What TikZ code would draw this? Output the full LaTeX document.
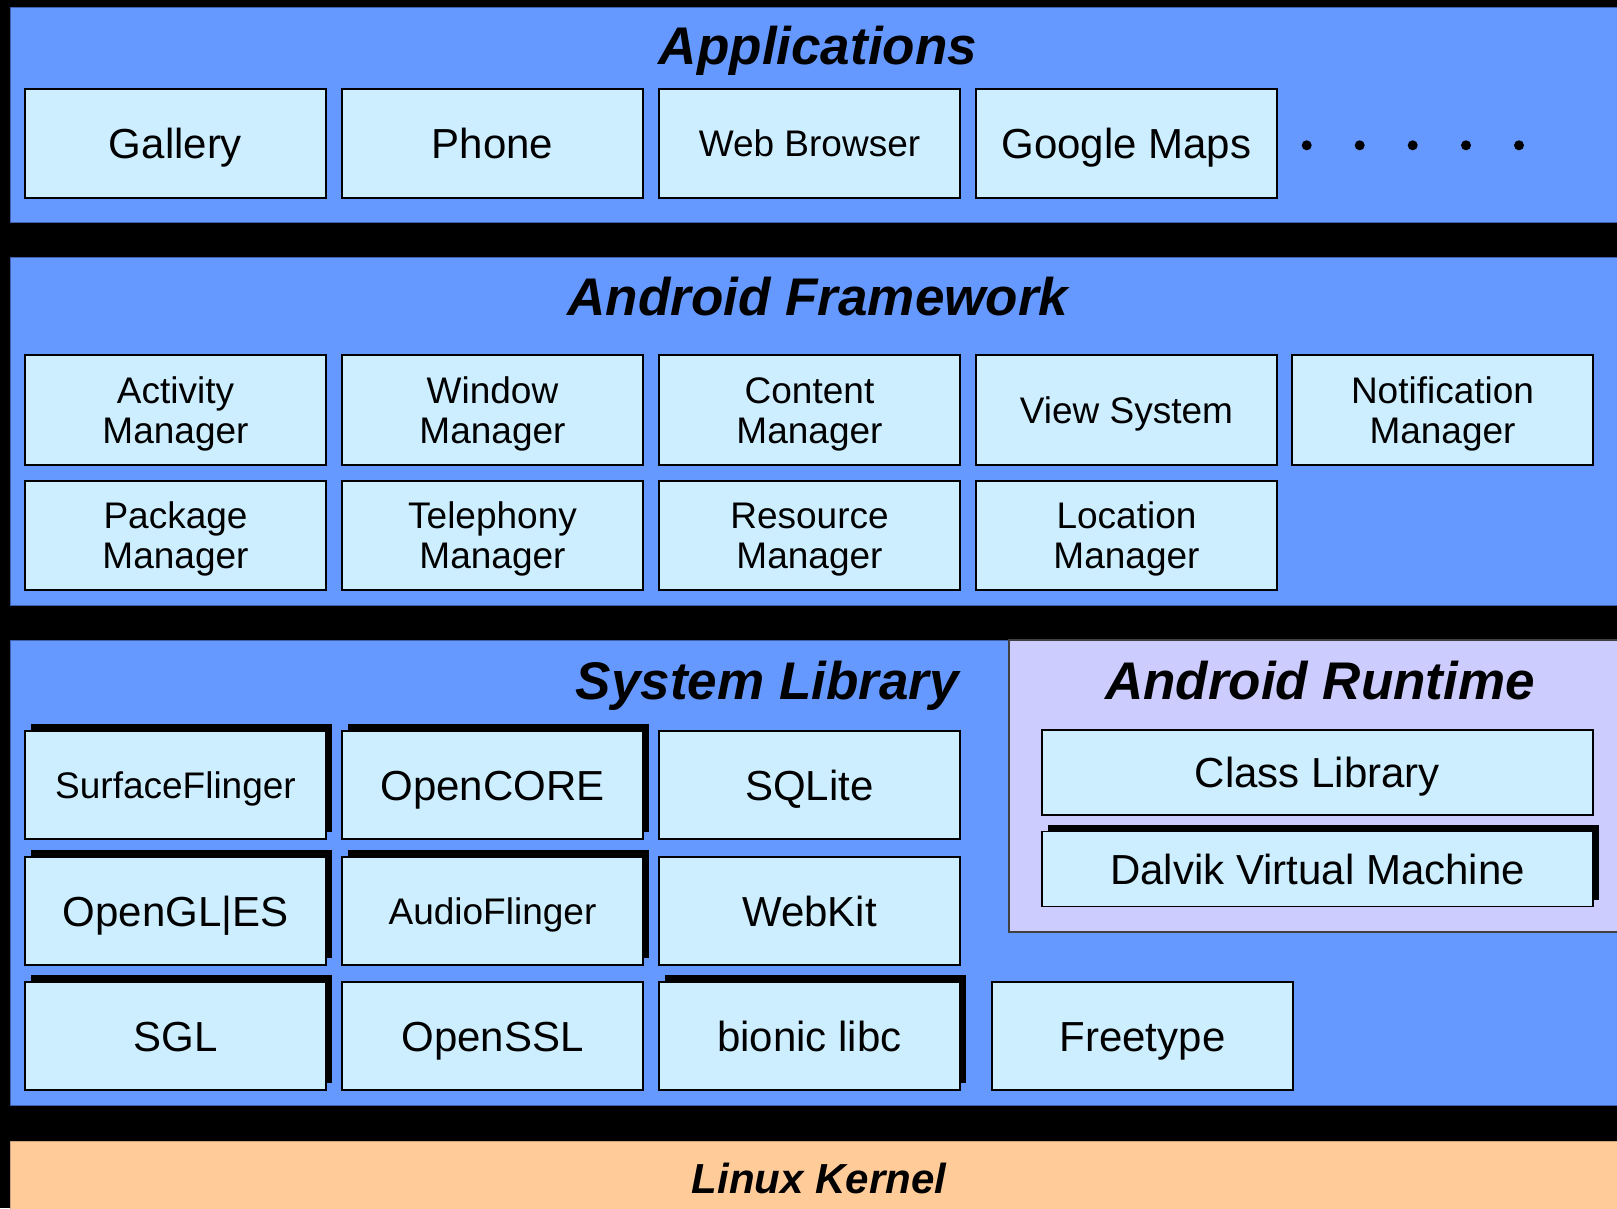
\documentclass[tikz,border=0pt]{standalone}
\usepackage{fontspec}
\setmainfont{Liberation Sans}
\usetikzlibrary{shadows}
\definecolor{bandc}{HTML}{6699FF}
\definecolor{bandline}{HTML}{3F5FAF}
\definecolor{boxc}{HTML}{CCEEFF}
\definecolor{rtc}{HTML}{CCCCFF}
\definecolor{kernc}{HTML}{FFCC99}
\begin{document}
\begin{tikzpicture}[x=1pt,y=-1pt,
  band/.style={fill=bandc, draw=bandline, line width=1},
  comp/.style={draw=black, line width=1.8, fill=boxc, minimum width=301, minimum height=109,
    inner sep=0, font=\fontsize{42}{46}\selectfont, text height=30, text depth=0},
  small/.style={font=\fontsize{37}{40}\selectfont, text height=26.5, text depth=0},
  twoline/.style={align=center, font=\fontsize{37}{40}\selectfont, text height=66.5, text depth=0},
  shad/.style={drop shadow={shadow xshift=6pt, shadow yshift=7pt, fill=black, opacity=1}},
  title/.style={anchor=base, inner sep=0, font=\fontsize{53}{58}\selectfont\bfseries\itshape},
  dot/.style={circle, fill=black, minimum size=10, inner sep=0}
]
\clip (0,0) rectangle (1617,1208);
\fill[black] (0,0) rectangle (1617,1208);

% bands
\path[band] (10,7) rectangle (1630,222);
\path[band] (10,257) rectangle (1630,605);
\path[band] (10,640) rectangle (1630,1105);
\path[fill=kernc, draw=kernc!80!black, line width=1] (10,1141) rectangle (1630,1220);
\path[fill=rtc, draw=black!75, line width=2] (1009,640) rectangle (1630,932);

% titles
\node[title] (tapp) at (818,64) {Applications};
\node[title] (tfw) at (818,315) {Android Framework};
\node[title, anchor=base east] (tsys) at (959,699) {System Library};
\node[title] (trt) at (1320,699) {Android Runtime};
\node[title, font=\fontsize{42}{46}\selectfont\bfseries\itshape] (tker) at (819,1193) {Linux Kernel};

% applications
\node[comp] (gallery) at (175.5,143.5) {Gallery};
\node[comp] (phone) at (492.5,143.5) {Phone};
\node[comp, small] (browser) at (809.5,143.5) {Web Browser};
\node[comp] (maps) at (1126.5,143.5) {Google Maps};
\node[dot] (d1) at (1306.7,145.3) {};
\node[dot] (d2) at (1359.7,145.3) {};
\node[dot] (d3) at (1412.7,145.3) {};
\node[dot] (d4) at (1466,145.3) {};
\node[dot] (d5) at (1519,145.3) {};

% framework
\node[comp, twoline, minimum height=110] (actm) at (175.5,410) {Activity\\Manager};
\node[comp, twoline, minimum height=110] (winm) at (492.5,410) {Window\\Manager};
\node[comp, twoline, minimum height=110] (conm) at (809.5,410) {Content\\Manager};
\node[comp, small, minimum height=110] (views) at (1126.5,410) {View System};
\node[comp, twoline, minimum height=110] (notm) at (1442.5,410) {Notification\\Manager};
\node[comp, twoline] (pkgm) at (175.5,535.5) {Package\\Manager};
\node[comp, twoline] (telm) at (492.5,535.5) {Telephony\\Manager};
\node[comp, twoline] (resm) at (809.5,535.5) {Resource\\Manager};
\node[comp, twoline] (locm) at (1126.5,535.5) {Location\\Manager};

% system library
\node[comp, small, shad, minimum height=108] (surf) at (175.5,785) {SurfaceFlinger};
\node[comp, shad, minimum height=108] (ocore) at (492.5,785) {OpenCORE};
\node[comp, minimum height=108] (sqlite) at (809.5,785) {SQLite};
\node[comp, shad, minimum height=108] (ogl) at (175.5,911) {OpenGL|ES};
\node[comp, small, shad, minimum height=108] (audio) at (492.5,911) {AudioFlinger};
\node[comp, minimum height=108] (webkit) at (809.5,911) {WebKit};
\node[comp, shad, minimum height=108] (sgl) at (175.5,1036) {SGL};
\node[comp, minimum height=108] (ssl) at (492.5,1036) {OpenSSL};
\node[comp, shad, minimum height=108] (libc) at (809.5,1036) {bionic libc};
\node[comp, minimum height=108] (ftype) at (1142.5,1036) {Freetype};

% runtime
\node[comp, minimum width=551, minimum height=85] (clib) at (1317.5,772.5) {Class Library};
\node[comp, shad, minimum width=551, minimum height=75] (dalvik) at (1317.5,869) {Dalvik Virtual Machine};
\end{tikzpicture}
\end{document}
